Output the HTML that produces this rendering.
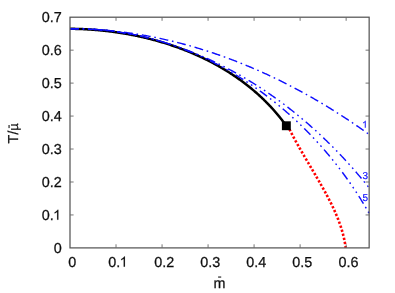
<!DOCTYPE html>
<html><head><meta charset="utf-8">
<style>
html,body{margin:0;padding:0;background:#fff;}
body{width:395px;height:293px;overflow:hidden;font-family:"Liberation Sans",sans-serif;}
svg{display:block;will-change:transform;opacity:0.999;}
text{font-family:"Liberation Sans",sans-serif;font-size:14.4px;fill:#111;text-rendering:geometricPrecision;}
</style></head><body>
<svg width="395" height="293" viewBox="0 0 395 293">
<defs><filter id="bl" filterUnits="userSpaceOnUse" x="0" y="0" width="395" height="293"><feGaussianBlur stdDeviation="0.35"/></filter></defs>
<rect width="395" height="293" fill="#fff"/>
<g filter="url(#bl)">
<path d="M70.00,28.80 L70.81,28.81 L71.61,28.81 L72.42,28.82 L73.23,28.83 L74.03,28.85 L74.84,28.86 L75.65,28.88 L76.46,28.90 L77.27,28.92 L78.08,28.94 L78.89,28.97 L79.70,29.00 L80.51,29.02 L81.32,29.06 L82.14,29.09 L82.95,29.12 L83.76,29.16 L84.57,29.20 L85.39,29.24 L86.20,29.28 L87.01,29.33 L87.83,29.38 L88.64,29.42 L89.46,29.48 L90.27,29.53 L91.09,29.58 L91.90,29.64 L92.72,29.70 L93.53,29.76 L94.35,29.82 L95.16,29.89 L95.98,29.95 L96.80,30.02 L97.61,30.09 L98.43,30.17 L99.25,30.24 L100.06,30.32 L100.88,30.40 L101.70,30.48 L102.52,30.56 L103.33,30.65 L104.15,30.73 L104.97,30.82 L105.78,30.91 L106.60,31.01 L107.42,31.10 L108.24,31.20 L109.06,31.30 L109.87,31.40 L110.69,31.50 L111.51,31.61 L112.33,31.71 L113.14,31.82 L113.96,31.93 L114.78,32.05 L115.60,32.16 L116.41,32.28 L117.23,32.40 L118.05,32.52 L118.86,32.64 L119.68,32.77 L120.50,32.90 L121.31,33.03 L122.13,33.16 L122.95,33.29 L123.76,33.43 L124.58,33.57 L125.39,33.71 L126.21,33.85 L127.02,34.00 L127.84,34.14 L128.65,34.29 L129.47,34.44 L130.28,34.59 L131.10,34.75 L131.91,34.91 L132.72,35.06 L133.54,35.23 L134.35,35.39 L135.16,35.55 L135.97,35.72 L136.78,35.89 L137.60,36.06 L138.41,36.24 L139.22,36.41 L140.03,36.59 L140.84,36.77 L141.65,36.95 L142.45,37.14 L143.26,37.32 L144.07,37.51 L144.88,37.70 L145.69,37.89 L146.49,38.09 L147.30,38.29 L148.10,38.48 L148.91,38.69 L149.71,38.89 L150.52,39.09 L151.32,39.30 L152.12,39.51 L152.93,39.72 L153.73,39.94 L154.53,40.15 L155.33,40.37 L156.13,40.59 L156.93,40.82 L157.73,41.04 L158.53,41.27 L159.32,41.50 L160.12,41.73 L160.92,41.96 L161.71,42.20 L162.51,42.43 L163.30,42.67 L164.09,42.92 L164.89,43.16 L165.68,43.41 L166.47,43.66 L167.26,43.91 L168.05,44.16 L168.84,44.41 L169.63,44.67 L170.41,44.93 L171.20,45.19 L171.99,45.46 L172.77,45.72 L173.56,45.99 L174.34,46.26 L175.12,46.53 L175.90,46.81 L176.68,47.09 L177.46,47.37 L178.24,47.65 L179.02,47.93 L179.80,48.22 L180.57,48.50 L181.35,48.80 L182.12,49.09 L182.89,49.38 L183.67,49.68 L184.44,49.98 L185.21,50.28 L185.98,50.58 L186.74,50.89 L187.51,51.20 L188.28,51.51 L189.04,51.82 L189.81,52.14 L190.57,52.45 L191.33,52.77 L192.09,53.09 L192.85,53.42 L193.61,53.74 L194.37,54.07 L195.12,54.40 L195.88,54.73 L196.63,55.07 L197.38,55.41 L198.14,55.75 L198.89,56.09 L199.64,56.43 L200.38,56.78 L201.13,57.13 L201.88,57.48 L202.62,57.83 L203.36,58.19 L204.11,58.54 L204.85,58.90 L205.58,59.27 L206.32,59.63 L207.06,60.00 L207.79,60.37 L208.53,60.74 L209.26,61.11 L209.99,61.49 L210.72,61.86 L211.45,62.24 L212.18,62.63 L212.90,63.01 L213.63,63.40 L214.35,63.79 L215.07,64.18 L215.79,64.58 L216.51,64.97 L217.23,65.37 L217.94,65.77 L218.66,66.18 L219.37,66.58 L220.08,66.99 L220.79,67.40 L221.50,67.81 L222.21,68.23 L222.91,68.65 L223.62,69.07 L224.32,69.49 L225.02,69.91 L225.72,70.34 L226.42,70.77 L227.11,71.20 L227.81,71.63 L228.50,72.07 L229.19,72.51 L229.88,72.95 L230.57,73.39 L231.25,73.84 L231.94,74.28 L232.62,74.73 L233.30,75.19 L233.98,75.64 L234.66,76.10 L235.33,76.56 L236.01,77.02 L236.68,77.48 L237.35,77.95 L238.02,78.42 L238.68,78.89 L239.35,79.37 L240.01,79.84 L240.67,80.32 L241.33,80.80 L241.99,81.28 L242.65,81.77 L243.30,82.26 L243.95,82.75 L244.60,83.24 L245.25,83.74 L245.90,84.23 L246.54,84.73 L247.19,85.24 L247.83,85.74 L248.47,86.25 L249.10,86.76 L249.74,87.27 L250.37,87.78 L251.00,88.30 L251.63,88.82 L252.26,89.34 L252.88,89.87 L253.51,90.39 L254.13,90.92 L254.75,91.45 L255.36,91.99 L255.98,92.52 L256.59,93.06 L257.20,93.60 L257.81,94.14 L258.42,94.69 L259.02,95.24 L259.62,95.79 L260.22,96.34 L260.82,96.90 L261.42,97.46 L262.01,98.02 L262.60,98.58 L263.19,99.15 L263.78,99.71 L264.36,100.28 L264.95,100.86 L265.53,101.43 L266.11,102.01 L266.68,102.59 L267.25,103.17 L267.83,103.76 L268.39,104.34 L268.96,104.93 L269.53,105.53 L270.09,106.12 L270.65,106.72 L271.21,107.32 L271.76,107.92 L272.31,108.53 L272.86,109.13 L273.41,109.74 L273.96,110.35 L274.50,110.97 L275.04,111.59 L275.58,112.21 L276.11,112.83 L276.65,113.45 L277.18,114.08 L277.71,114.71 L278.23,115.34 L278.76,115.98 L279.28,116.61 L279.80,117.25 L280.31,117.90 L280.83,118.54 L281.34,119.19 L281.84,119.84 L282.35,120.49 L282.85,121.14 L283.35,121.80 L283.85,122.46 L284.35,123.12 L284.84,123.79 L285.33,124.46 L285.82,125.13 L286.30,125.80" fill="none" stroke="#000" stroke-width="2.5"/>
<path d="M70.00,28.70 L71.09,28.70 L72.17,28.71 L73.26,28.72 L74.35,28.73 L75.44,28.74 L76.52,28.76 L77.61,28.78 L78.69,28.80 L79.78,28.83 L80.86,28.86 L81.95,28.89 L83.03,28.92 L84.12,28.96 L85.20,29.00 L86.28,29.04 L87.37,29.09 L88.45,29.14 L89.53,29.19 L90.61,29.24 L91.69,29.30 L92.77,29.36 L93.85,29.42 L94.93,29.48 L96.01,29.55 L97.09,29.62 L98.17,29.70 L99.25,29.77 L100.33,29.85 L101.41,29.93 L102.49,30.01 L103.56,30.10 L104.64,30.19 L105.72,30.28 L106.79,30.38 L107.87,30.47 L108.94,30.57 L110.02,30.68 L111.09,30.78 L112.17,30.89 L113.24,31.00 L114.31,31.12 L115.38,31.23 L116.46,31.35 L117.53,31.47 L118.60,31.60 L119.67,31.72 L120.74,31.85 L121.81,31.98 L122.88,32.12 L123.95,32.25 L125.02,32.39 L126.09,32.54 L127.15,32.68 L128.22,32.83 L129.29,32.98 L130.36,33.13 L131.42,33.29 L132.49,33.45 L133.55,33.61 L134.62,33.77 L135.68,33.93 L136.74,34.10 L137.81,34.27 L138.87,34.45 L139.93,34.62 L140.99,34.80 L142.05,34.98 L143.11,35.16 L144.17,35.35 L145.23,35.54 L146.29,35.73 L147.35,35.92 L148.41,36.12 L149.47,36.32 L150.52,36.52 L151.58,36.72 L152.64,36.93 L153.69,37.14 L154.75,37.35 L155.80,37.56 L156.86,37.78 L157.91,37.99 L158.96,38.21 L160.01,38.44 L161.07,38.66 L162.12,38.89 L163.17,39.12 L164.22,39.35 L165.27,39.59 L166.32,39.83 L167.37,40.07 L168.41,40.31 L169.46,40.55 L170.51,40.80 L171.55,41.05 L172.60,41.30 L173.64,41.56 L174.69,41.81 L175.73,42.07 L176.78,42.33 L177.82,42.60 L178.86,42.86 L179.90,43.13 L180.94,43.40 L181.98,43.68 L183.02,43.95 L184.06,44.23 L185.10,44.51 L186.14,44.79 L187.18,45.08 L188.21,45.36 L189.25,45.65 L190.28,45.94 L191.32,46.24 L192.35,46.53 L193.39,46.83 L194.42,47.13 L195.45,47.44 L196.48,47.74 L197.52,48.05 L198.55,48.36 L199.58,48.67 L200.61,48.99 L201.63,49.30 L202.66,49.62 L203.69,49.94 L204.72,50.27 L205.74,50.59 L206.77,50.92 L207.79,51.25 L208.82,51.58 L209.84,51.91 L210.86,52.25 L211.88,52.59 L212.90,52.93 L213.92,53.27 L214.94,53.62 L215.96,53.97 L216.98,54.31 L218.00,54.67 L219.02,55.02 L220.03,55.38 L221.05,55.73 L222.06,56.09 L223.08,56.46 L224.09,56.82 L225.11,57.19 L226.12,57.56 L227.13,57.93 L228.14,58.30 L229.15,58.67 L230.16,59.05 L231.17,59.43 L232.18,59.81 L233.18,60.20 L234.19,60.58 L235.19,60.97 L236.20,61.36 L237.20,61.75 L238.21,62.14 L239.21,62.54 L240.21,62.94 L241.21,63.34 L242.21,63.74 L243.21,64.14 L244.21,64.55 L245.21,64.96 L246.21,65.37 L247.20,65.78 L248.20,66.19 L249.19,66.61 L250.19,67.02 L251.18,67.44 L252.17,67.87 L253.17,68.29 L254.16,68.72 L255.15,69.14 L256.14,69.57 L257.13,70.01 L258.11,70.44 L259.10,70.87 L260.09,71.31 L261.07,71.75 L262.06,72.19 L263.04,72.64 L264.03,73.08 L265.01,73.53 L265.99,73.98 L266.97,74.43 L267.95,74.88 L268.93,75.34 L269.91,75.79 L270.88,76.25 L271.86,76.71 L272.84,77.17 L273.81,77.64 L274.79,78.10 L275.76,78.57 L276.73,79.04 L277.70,79.51 L278.67,79.99 L279.64,80.46 L280.61,80.94 L281.58,81.42 L282.55,81.90 L283.51,82.38 L284.48,82.87 L285.44,83.35 L286.41,83.84 L287.37,84.33 L288.33,84.82 L289.29,85.31 L290.25,85.81 L291.21,86.31 L292.17,86.81 L293.13,87.31 L294.08,87.81 L295.04,88.31 L295.99,88.82 L296.95,89.33 L297.90,89.83 L298.85,90.35 L299.80,90.86 L300.75,91.37 L301.70,91.89 L302.65,92.41 L303.60,92.93 L304.54,93.45 L305.49,93.97 L306.43,94.50 L307.38,95.02 L308.32,95.55 L309.26,96.08 L310.20,96.61 L311.14,97.14 L312.08,97.68 L313.02,98.22 L313.96,98.75 L314.89,99.29 L315.83,99.83 L316.76,100.38 L317.70,100.92 L318.63,101.47 L319.56,102.02 L320.49,102.57 L321.42,103.12 L322.35,103.67 L323.27,104.22 L324.20,104.78 L325.13,105.34 L326.05,105.90 L326.97,106.46 L327.90,107.02 L328.82,107.58 L329.74,108.15 L330.66,108.72 L331.57,109.28 L332.49,109.85 L333.41,110.43 L334.32,111.00 L335.24,111.57 L336.15,112.15 L337.06,112.73 L337.97,113.31 L338.88,113.89 L339.79,114.47 L340.70,115.05 L341.61,115.64 L342.52,116.23 L343.42,116.81 L344.32,117.40 L345.23,118.00 L346.13,118.59 L347.03,119.18 L347.93,119.78 L348.83,120.37 L349.73,120.97 L350.62,121.57 L351.52,122.18 L352.41,122.78 L353.31,123.38 L354.20,123.99 L355.09,124.60 L355.98,125.20 L356.87,125.81 L357.76,126.43 L358.64,127.04 L359.53,127.65 L360.41,128.27 L361.30,128.89 L362.18,129.50 L363.06,130.12 L363.94,130.75 L364.82,131.37 L365.70,131.99 L366.58,132.62 L367.45,133.24 L368.33,133.87 L369.20,134.50" fill="none" stroke="#0a0aff" stroke-width="1.4" stroke-dasharray="8.9 3.75 1.6 3.8"/>
<path d="M70.00,28.70 L71.20,28.69 L72.39,28.69 L73.59,28.69 L74.78,28.69 L75.98,28.70 L77.17,28.72 L78.37,28.74 L79.56,28.76 L80.75,28.79 L81.94,28.82 L83.13,28.86 L84.32,28.90 L85.50,28.95 L86.69,29.00 L87.88,29.05 L89.06,29.12 L90.25,29.18 L91.43,29.25 L92.61,29.32 L93.79,29.40 L94.97,29.49 L96.15,29.57 L97.33,29.67 L98.51,29.76 L99.69,29.86 L100.86,29.97 L102.04,30.08 L103.21,30.19 L104.39,30.31 L105.56,30.44 L106.73,30.56 L107.90,30.70 L109.07,30.83 L110.24,30.97 L111.41,31.12 L112.57,31.27 L113.74,31.42 L114.90,31.58 L116.07,31.74 L117.23,31.91 L118.39,32.08 L119.55,32.26 L120.71,32.44 L121.87,32.62 L123.03,32.81 L124.19,33.00 L125.34,33.20 L126.50,33.40 L127.65,33.60 L128.80,33.81 L129.95,34.03 L131.10,34.25 L132.25,34.47 L133.40,34.69 L134.55,34.92 L135.69,35.16 L136.84,35.40 L137.98,35.64 L139.13,35.89 L140.27,36.14 L141.41,36.39 L142.55,36.65 L143.69,36.91 L144.82,37.18 L145.96,37.45 L147.09,37.73 L148.23,38.00 L149.36,38.29 L150.49,38.57 L151.62,38.87 L152.75,39.16 L153.88,39.46 L155.01,39.76 L156.13,40.07 L157.26,40.38 L158.38,40.69 L159.50,41.01 L160.62,41.34 L161.74,41.66 L162.86,41.99 L163.98,42.33 L165.09,42.66 L166.21,43.01 L167.32,43.35 L168.43,43.70 L169.55,44.05 L170.66,44.41 L171.76,44.77 L172.87,45.14 L173.98,45.50 L175.08,45.88 L176.19,46.25 L177.29,46.63 L178.39,47.01 L179.49,47.40 L180.59,47.79 L181.68,48.19 L182.78,48.58 L183.87,48.98 L184.97,49.39 L186.06,49.80 L187.15,50.21 L188.24,50.63 L189.33,51.05 L190.41,51.47 L191.50,51.90 L192.58,52.33 L193.66,52.76 L194.75,53.20 L195.82,53.64 L196.90,54.08 L197.98,54.53 L199.06,54.98 L200.13,55.44 L201.20,55.90 L202.27,56.36 L203.34,56.83 L204.41,57.29 L205.48,57.77 L206.55,58.24 L207.61,58.72 L208.67,59.21 L209.73,59.69 L210.79,60.18 L211.85,60.67 L212.91,61.17 L213.96,61.67 L215.02,62.17 L216.07,62.68 L217.12,63.19 L218.17,63.70 L219.22,64.22 L220.27,64.74 L221.31,65.26 L222.36,65.79 L223.40,66.31 L224.44,66.85 L225.48,67.38 L226.52,67.92 L227.55,68.46 L228.59,69.01 L229.62,69.56 L230.65,70.11 L231.68,70.66 L232.71,71.22 L233.74,71.78 L234.76,72.35 L235.78,72.91 L236.81,73.49 L237.83,74.06 L238.85,74.64 L239.86,75.22 L240.88,75.80 L241.89,76.38 L242.91,76.97 L243.92,77.57 L244.93,78.16 L245.93,78.76 L246.94,79.36 L247.94,79.96 L248.95,80.57 L249.95,81.18 L250.95,81.79 L251.95,82.41 L252.94,83.03 L253.94,83.65 L254.93,84.27 L255.92,84.90 L256.91,85.53 L257.90,86.17 L258.88,86.80 L259.87,87.44 L260.85,88.08 L261.83,88.73 L262.81,89.37 L263.79,90.03 L264.76,90.68 L265.74,91.33 L266.71,91.99 L267.68,92.65 L268.65,93.32 L269.62,93.99 L270.58,94.66 L271.55,95.33 L272.51,96.00 L273.47,96.68 L274.43,97.36 L275.38,98.05 L276.34,98.73 L277.29,99.42 L278.24,100.11 L279.19,100.81 L280.14,101.50 L281.08,102.20 L282.03,102.90 L282.97,103.61 L283.91,104.31 L284.85,105.02 L285.78,105.74 L286.72,106.45 L287.65,107.17 L288.58,107.89 L289.51,108.61 L290.44,109.33 L291.36,110.06 L292.29,110.79 L293.21,111.52 L294.13,112.26 L295.04,112.99 L295.96,113.73 L296.87,114.48 L297.79,115.22 L298.70,115.97 L299.60,116.72 L300.51,117.47 L301.41,118.22 L302.32,118.98 L303.22,119.74 L304.12,120.50 L305.01,121.26 L305.91,122.03 L306.80,122.80 L307.69,123.57 L308.58,124.34 L309.47,125.11 L310.35,125.89 L311.23,126.67 L312.11,127.45 L312.99,128.23 L313.87,129.02 L314.74,129.81 L315.62,130.60 L316.49,131.39 L317.35,132.19 L318.22,132.98 L319.09,133.78 L319.95,134.58 L320.81,135.39 L321.67,136.19 L322.52,137.00 L323.38,137.81 L324.23,138.62 L325.08,139.44 L325.93,140.25 L326.77,141.07 L327.62,141.89 L328.46,142.71 L329.30,143.54 L330.14,144.36 L330.97,145.19 L331.80,146.02 L332.63,146.85 L333.46,147.69 L334.29,148.53 L335.12,149.36 L335.94,150.20 L336.76,151.05 L337.58,151.89 L338.39,152.73 L339.21,153.58 L340.02,154.43 L340.83,155.28 L341.63,156.14 L342.44,156.99 L343.24,157.85 L344.04,158.71 L344.84,159.57 L345.64,160.43 L346.43,161.29 L347.22,162.16 L348.01,163.03 L348.80,163.90 L349.59,164.77 L350.37,165.64 L351.15,166.52 L351.93,167.39 L352.70,168.27 L353.48,169.15 L354.25,170.03 L355.02,170.92 L355.79,171.80 L356.55,172.69 L357.31,173.58 L358.07,174.47 L358.83,175.36 L359.59,176.25 L360.34,177.14 L361.09,178.04 L361.84,178.94 L362.59,179.84 L363.33,180.74 L364.07,181.64 L364.81,182.55 L365.55,183.45 L366.28,184.36 L367.02,185.27 L367.75,186.18 L368.47,187.09 L369.20,188.00" fill="none" stroke="#0a0aff" stroke-width="1.4" stroke-dasharray="8.9 3.75 1.6 3.9 1.6 3.8"/>
<path d="M70.00,28.70 L71.26,28.68 L72.52,28.66 L73.78,28.65 L75.04,28.65 L76.30,28.65 L77.56,28.65 L78.81,28.66 L80.07,28.68 L81.32,28.70 L82.58,28.73 L83.83,28.76 L85.08,28.80 L86.33,28.84 L87.58,28.89 L88.83,28.95 L90.08,29.01 L91.33,29.07 L92.57,29.14 L93.82,29.22 L95.06,29.30 L96.31,29.39 L97.55,29.48 L98.79,29.58 L100.03,29.68 L101.27,29.79 L102.51,29.90 L103.74,30.02 L104.98,30.14 L106.21,30.27 L107.45,30.41 L108.68,30.54 L109.91,30.69 L111.14,30.84 L112.37,30.99 L113.60,31.15 L114.82,31.32 L116.05,31.49 L117.27,31.66 L118.50,31.84 L119.72,32.03 L120.94,32.22 L122.16,32.42 L123.38,32.62 L124.59,32.82 L125.81,33.03 L127.02,33.25 L128.24,33.47 L129.45,33.70 L130.66,33.93 L131.87,34.16 L133.08,34.40 L134.28,34.65 L135.49,34.90 L136.69,35.15 L137.89,35.41 L139.10,35.68 L140.30,35.95 L141.49,36.22 L142.69,36.50 L143.89,36.79 L145.08,37.08 L146.27,37.37 L147.47,37.67 L148.66,37.97 L149.85,38.28 L151.03,38.60 L152.22,38.91 L153.40,39.24 L154.59,39.56 L155.77,39.89 L156.95,40.23 L158.13,40.57 L159.30,40.92 L160.48,41.27 L161.65,41.62 L162.83,41.98 L164.00,42.35 L165.17,42.72 L166.33,43.09 L167.50,43.47 L168.66,43.85 L169.83,44.24 L170.99,44.63 L172.15,45.03 L173.31,45.43 L174.46,45.83 L175.62,46.24 L176.77,46.66 L177.93,47.08 L179.08,47.50 L180.22,47.93 L181.37,48.36 L182.52,48.80 L183.66,49.24 L184.80,49.68 L185.94,50.13 L187.08,50.59 L188.22,51.05 L189.35,51.51 L190.48,51.97 L191.62,52.45 L192.75,52.92 L193.87,53.40 L195.00,53.89 L196.12,54.37 L197.25,54.87 L198.37,55.36 L199.49,55.86 L200.60,56.37 L201.72,56.88 L202.83,57.39 L203.94,57.91 L205.05,58.43 L206.16,58.96 L207.27,59.49 L208.37,60.02 L209.47,60.56 L210.57,61.10 L211.67,61.65 L212.77,62.20 L213.86,62.75 L214.95,63.31 L216.05,63.87 L217.13,64.44 L218.22,65.01 L219.30,65.59 L220.39,66.16 L221.47,66.75 L222.55,67.33 L223.62,67.92 L224.70,68.52 L225.77,69.11 L226.84,69.72 L227.91,70.32 L228.98,70.93 L230.04,71.55 L231.10,72.16 L232.16,72.78 L233.22,73.41 L234.28,74.04 L235.33,74.67 L236.38,75.31 L237.43,75.95 L238.48,76.59 L239.52,77.24 L240.57,77.89 L241.61,78.54 L242.65,79.20 L243.68,79.87 L244.72,80.53 L245.75,81.20 L246.78,81.87 L247.81,82.55 L248.83,83.23 L249.86,83.92 L250.88,84.60 L251.90,85.29 L252.91,85.99 L253.93,86.69 L254.94,87.39 L255.95,88.10 L256.96,88.80 L257.96,89.52 L258.96,90.23 L259.96,90.95 L260.96,91.68 L261.96,92.40 L262.95,93.13 L263.94,93.87 L264.93,94.60 L265.92,95.34 L266.90,96.09 L267.88,96.83 L268.86,97.58 L269.84,98.34 L270.81,99.09 L271.78,99.85 L272.75,100.62 L273.72,101.38 L274.68,102.15 L275.65,102.93 L276.61,103.70 L277.56,104.48 L278.52,105.27 L279.47,106.05 L280.42,106.84 L281.36,107.63 L282.31,108.43 L283.25,109.23 L284.19,110.03 L285.13,110.84 L286.06,111.64 L286.99,112.46 L287.92,113.27 L288.85,114.09 L289.77,114.91 L290.69,115.73 L291.61,116.56 L292.52,117.39 L293.44,118.22 L294.35,119.06 L295.26,119.90 L296.16,120.74 L297.06,121.58 L297.96,122.43 L298.86,123.28 L299.75,124.14 L300.64,124.99 L301.53,125.85 L302.42,126.72 L303.30,127.58 L304.18,128.45 L305.06,129.32 L305.94,130.19 L306.81,131.07 L307.68,131.95 L308.54,132.83 L309.41,133.72 L310.27,134.61 L311.13,135.50 L311.98,136.39 L312.83,137.29 L313.68,138.18 L314.53,139.09 L315.37,139.99 L316.22,140.90 L317.05,141.81 L317.89,142.72 L318.72,143.63 L319.55,144.55 L320.38,145.47 L321.20,146.40 L322.02,147.32 L322.84,148.25 L323.65,149.18 L324.46,150.11 L325.27,151.05 L326.08,151.99 L326.88,152.93 L327.68,153.87 L328.48,154.82 L329.27,155.77 L330.06,156.72 L330.85,157.67 L331.63,158.62 L332.41,159.58 L333.19,160.54 L333.97,161.51 L334.74,162.47 L335.51,163.44 L336.27,164.41 L337.04,165.38 L337.80,166.36 L338.55,167.33 L339.31,168.31 L340.06,169.29 L340.80,170.28 L341.55,171.26 L342.29,172.25 L343.02,173.24 L343.76,174.24 L344.49,175.23 L345.22,176.23 L345.94,177.23 L346.66,178.23 L347.38,179.24 L348.10,180.24 L348.81,181.25 L349.52,182.26 L350.22,183.27 L350.92,184.29 L351.62,185.30 L352.32,186.32 L353.01,187.34 L353.70,188.37 L354.38,189.39 L355.06,190.42 L355.74,191.45 L356.42,192.48 L357.09,193.51 L357.76,194.55 L358.42,195.58 L359.08,196.62 L359.74,197.66 L360.40,198.71 L361.05,199.75 L361.69,200.80 L362.34,201.85 L362.98,202.90 L363.62,203.95 L364.25,205.00 L364.88,206.06 L365.51,207.12 L366.13,208.18 L366.75,209.24 L367.37,210.30 L367.98,211.37 L368.59,212.43 L369.20,213.50" fill="none" stroke="#0a0aff" stroke-width="1.4" stroke-dasharray="8.9 3.75 1.6 3.9 1.6 3.9 1.6 3.8"/>
<path d="M288.20,126.80 L288.40,127.20 L288.60,127.60 L288.80,128.01 L289.00,128.41 L289.20,128.81 L289.40,129.21 L289.60,129.61 L289.81,130.01 L290.01,130.41 L290.21,130.81 L290.42,131.21 L290.62,131.61 L290.83,132.01 L291.03,132.41 L291.24,132.81 L291.45,133.21 L291.66,133.60 L291.87,134.00 L292.07,134.40 L292.28,134.80 L292.49,135.20 L292.70,135.59 L292.92,135.99 L293.13,136.39 L293.34,136.78 L293.55,137.18 L293.77,137.58 L293.98,137.97 L294.19,138.37 L294.41,138.77 L294.62,139.16 L294.84,139.56 L295.05,139.95 L295.27,140.35 L295.49,140.74 L295.70,141.14 L295.92,141.53 L296.14,141.93 L296.36,142.32 L296.58,142.72 L296.80,143.11 L297.02,143.50 L297.24,143.90 L297.46,144.29 L297.68,144.68 L297.90,145.08 L298.12,145.47 L298.34,145.86 L298.56,146.26 L298.79,146.65 L299.01,147.04 L299.23,147.44 L299.45,147.83 L299.68,148.22 L299.90,148.61 L300.13,149.01 L300.35,149.40 L300.58,149.79 L300.80,150.18 L301.03,150.57 L301.25,150.96 L301.48,151.36 L301.70,151.75 L301.93,152.14 L302.16,152.53 L302.38,152.92 L302.61,153.31 L302.84,153.70 L303.07,154.10 L303.29,154.49 L303.52,154.88 L303.75,155.27 L303.98,155.66 L304.21,156.05 L304.44,156.44 L304.67,156.83 L304.89,157.22 L305.12,157.61 L305.35,158.00 L305.58,158.39 L305.81,158.78 L306.04,159.17 L306.27,159.56 L306.50,159.95 L306.73,160.34 L306.96,160.73 L307.19,161.12 L307.42,161.51 L307.65,161.90 L307.88,162.29 L308.11,162.68 L308.35,163.07 L308.58,163.46 L308.81,163.85 L309.04,164.24 L309.27,164.63 L309.50,165.02 L309.73,165.41 L309.96,165.80 L310.19,166.19 L310.42,166.58 L310.65,166.97 L310.88,167.36 L311.12,167.75 L311.35,168.14 L311.58,168.53 L311.81,168.92 L312.04,169.31 L312.27,169.70 L312.50,170.09 L312.73,170.49 L312.96,170.88 L313.19,171.27 L313.42,171.66 L313.65,172.05 L313.88,172.44 L314.11,172.83 L314.34,173.22 L314.57,173.61 L314.80,174.00 L315.03,174.39 L315.26,174.78 L315.49,175.17 L315.72,175.56 L315.95,175.95 L316.18,176.34 L316.41,176.74 L316.64,177.13 L316.86,177.52 L317.09,177.91 L317.32,178.30 L317.55,178.69 L317.78,179.08 L318.00,179.48 L318.23,179.87 L318.46,180.26 L318.68,180.65 L318.91,181.04 L319.14,181.44 L319.36,181.83 L319.59,182.22 L319.81,182.61 L320.04,183.01 L320.26,183.40 L320.49,183.79 L320.71,184.19 L320.94,184.58 L321.16,184.97 L321.38,185.37 L321.61,185.76 L321.83,186.15 L322.05,186.55 L322.27,186.94 L322.50,187.33 L322.72,187.73 L322.94,188.12 L323.16,188.52 L323.38,188.91 L323.60,189.31 L323.82,189.70 L324.04,190.10 L324.26,190.49 L324.47,190.89 L324.69,191.29 L324.91,191.68 L325.13,192.08 L325.34,192.47 L325.56,192.87 L325.78,193.27 L325.99,193.66 L326.21,194.06 L326.42,194.46 L326.63,194.86 L326.85,195.25 L327.06,195.65 L327.27,196.05 L327.48,196.45 L327.70,196.85 L327.91,197.25 L328.12,197.65 L328.33,198.04 L328.53,198.44 L328.74,198.84 L328.95,199.24 L329.16,199.64 L329.36,200.05 L329.57,200.45 L329.77,200.85 L329.98,201.25 L330.18,201.65 L330.38,202.05 L330.59,202.45 L330.79,202.86 L330.99,203.26 L331.19,203.66 L331.39,204.07 L331.58,204.47 L331.78,204.87 L331.98,205.28 L332.17,205.68 L332.37,206.09 L332.56,206.49 L332.76,206.90 L332.95,207.30 L333.14,207.71 L333.33,208.12 L333.52,208.52 L333.71,208.93 L333.90,209.34 L334.09,209.75 L334.27,210.16 L334.46,210.56 L334.64,210.97 L334.83,211.38 L335.01,211.79 L335.19,212.20 L335.37,212.61 L335.55,213.02 L335.73,213.43 L335.90,213.85 L336.08,214.26 L336.26,214.67 L336.43,215.08 L336.60,215.50 L336.78,215.91 L336.95,216.32 L337.12,216.74 L337.29,217.15 L337.45,217.57 L337.62,217.98 L337.78,218.40 L337.95,218.82 L338.11,219.23 L338.27,219.65 L338.43,220.07 L338.59,220.49 L338.75,220.91 L338.91,221.32 L339.06,221.74 L339.22,222.16 L339.37,222.58 L339.52,223.01 L339.67,223.43 L339.82,223.85 L339.97,224.27 L340.12,224.69 L340.26,225.12 L340.41,225.54 L340.55,225.97 L340.69,226.39 L340.83,226.82 L340.97,227.24 L341.11,227.67 L341.24,228.10 L341.38,228.52 L341.51,228.95 L341.64,229.38 L341.77,229.81 L341.90,230.24 L342.02,230.67 L342.15,231.10 L342.27,231.53 L342.40,231.96 L342.52,232.39 L342.64,232.83 L342.75,233.26 L342.87,233.69 L342.99,234.13 L343.10,234.56 L343.21,235.00 L343.32,235.44 L343.43,235.87 L343.53,236.31 L343.64,236.75 L343.74,237.19 L343.84,237.63 L343.94,238.07 L344.04,238.51 L344.14,238.95 L344.24,239.39 L344.33,239.83 L344.42,240.27 L344.51,240.72 L344.60,241.16 L344.68,241.61 L344.77,242.05 L344.85,242.50 L344.93,242.94 L345.01,243.39 L345.09,243.84 L345.16,244.29 L345.24,244.74 L345.31,245.19 L345.38,245.64 L345.45,246.09 L345.51,246.54 L345.58,246.99 L345.64,247.45 L345.70,247.90" fill="none" stroke="#ff0000" stroke-width="2.6" stroke-dasharray="2.3 1.9" stroke-dashoffset="1.48"/>
<rect x="281.9" y="121.3" width="8.9" height="8.9" fill="#000"/>
<g stroke="#525252" stroke-width="1.22" fill="none">
<rect x="70.0" y="17.2" width="299.15" height="230.70"/>
<g stroke-width="0.9" stroke="#666"><line x1="116.02" y1="247.90" x2="116.02" y2="244.30"/><line x1="116.02" y1="17.20" x2="116.02" y2="20.80"/><line x1="162.05" y1="247.90" x2="162.05" y2="244.30"/><line x1="162.05" y1="17.20" x2="162.05" y2="20.80"/><line x1="208.07" y1="247.90" x2="208.07" y2="244.30"/><line x1="208.07" y1="17.20" x2="208.07" y2="20.80"/><line x1="254.09" y1="247.90" x2="254.09" y2="244.30"/><line x1="254.09" y1="17.20" x2="254.09" y2="20.80"/><line x1="300.12" y1="247.90" x2="300.12" y2="244.30"/><line x1="300.12" y1="17.20" x2="300.12" y2="20.80"/><line x1="346.14" y1="247.90" x2="346.14" y2="244.30"/><line x1="346.14" y1="17.20" x2="346.14" y2="20.80"/><line x1="70.00" y1="214.94" x2="73.60" y2="214.94"/><line x1="369.15" y1="214.94" x2="365.55" y2="214.94"/><line x1="70.00" y1="181.99" x2="73.60" y2="181.99"/><line x1="369.15" y1="181.99" x2="365.55" y2="181.99"/><line x1="70.00" y1="149.03" x2="73.60" y2="149.03"/><line x1="369.15" y1="149.03" x2="365.55" y2="149.03"/><line x1="70.00" y1="116.07" x2="73.60" y2="116.07"/><line x1="369.15" y1="116.07" x2="365.55" y2="116.07"/><line x1="70.00" y1="83.11" x2="73.60" y2="83.11"/><line x1="369.15" y1="83.11" x2="365.55" y2="83.11"/><line x1="70.00" y1="50.16" x2="73.60" y2="50.16"/><line x1="369.15" y1="50.16" x2="365.55" y2="50.16"/></g>
</g>
<g><text x="68.25" y="266.70" style="font-size:14.4px;fill:#111;stroke:#111;stroke-width:0.25">0</text><text x="108.27" y="266.70" style="font-size:14.4px;fill:#111;stroke:#111;stroke-width:0.25">0.</text><path transform="translate(119.63,266.70) scale(0.006961,-0.006926)" d="M763 0H583V1147Q518 1085 412.5 1023Q307 961 223 930V1104Q374 1175 487 1276Q600 1377 647 1472H763Z" fill="#111" stroke="#111" stroke-width="14.2"/><text x="154.29" y="266.70" style="font-size:14.4px;fill:#111;stroke:#111;stroke-width:0.25">0.2</text><text x="200.31" y="266.70" style="font-size:14.4px;fill:#111;stroke:#111;stroke-width:0.25">0.3</text><text x="246.33" y="266.70" style="font-size:14.4px;fill:#111;stroke:#111;stroke-width:0.25">0.4</text><text x="292.36" y="266.70" style="font-size:14.4px;fill:#111;stroke:#111;stroke-width:0.25">0.5</text><text x="338.38" y="266.70" style="font-size:14.4px;fill:#111;stroke:#111;stroke-width:0.25">0.6</text></g>
<g><text x="53.69" y="252.80" style="font-size:14.4px;fill:#111;stroke:#111;stroke-width:0.25">0</text><text x="41.68" y="219.84" style="font-size:14.4px;fill:#111;stroke:#111;stroke-width:0.25">0.</text><path transform="translate(53.05,219.84) scale(0.006961,-0.006926)" d="M763 0H583V1147Q518 1085 412.5 1023Q307 961 223 930V1104Q374 1175 487 1276Q600 1377 647 1472H763Z" fill="#111" stroke="#111" stroke-width="14.2"/><text x="41.68" y="186.89" style="font-size:14.4px;fill:#111;stroke:#111;stroke-width:0.25">0.2</text><text x="41.68" y="153.93" style="font-size:14.4px;fill:#111;stroke:#111;stroke-width:0.25">0.3</text><text x="41.68" y="120.97" style="font-size:14.4px;fill:#111;stroke:#111;stroke-width:0.25">0.4</text><text x="41.68" y="88.01" style="font-size:14.4px;fill:#111;stroke:#111;stroke-width:0.25">0.5</text><text x="41.68" y="55.06" style="font-size:14.4px;fill:#111;stroke:#111;stroke-width:0.25">0.6</text><text x="41.68" y="22.10" style="font-size:14.4px;fill:#111;stroke:#111;stroke-width:0.25">0.7</text></g>
<g><path transform="translate(361.99,127.80) scale(0.004834,-0.004810)" d="M763 0H583V1147Q518 1085 412.5 1023Q307 961 223 930V1104Q374 1175 487 1276Q600 1377 647 1472H763Z" fill="#0a0aff" stroke="#0a0aff" stroke-width="12.3"/><text x="362.44" y="179.00" style="font-size:10px;fill:#0a0aff;stroke:#0a0aff;stroke-width:0.15">3</text><text x="362.44" y="200.60" style="font-size:10px;fill:#0a0aff;stroke:#0a0aff;stroke-width:0.15">5</text></g>
<text x="219.6" y="287.9" text-anchor="middle" style="stroke:#111;stroke-width:0.25">m</text>
<rect x="218.1" y="276.5" width="3.1" height="1.1" fill="#111"/>
<text transform="translate(18,143.6) rotate(-90)" x="0" y="0" style="stroke:#111;stroke-width:0.25">T/<tspan style="font-size:13px">µ</tspan></text>
<rect x="8.5" y="125.0" width="1.1" height="3.1" fill="#111"/>
</g>
</svg>
</body></html>
